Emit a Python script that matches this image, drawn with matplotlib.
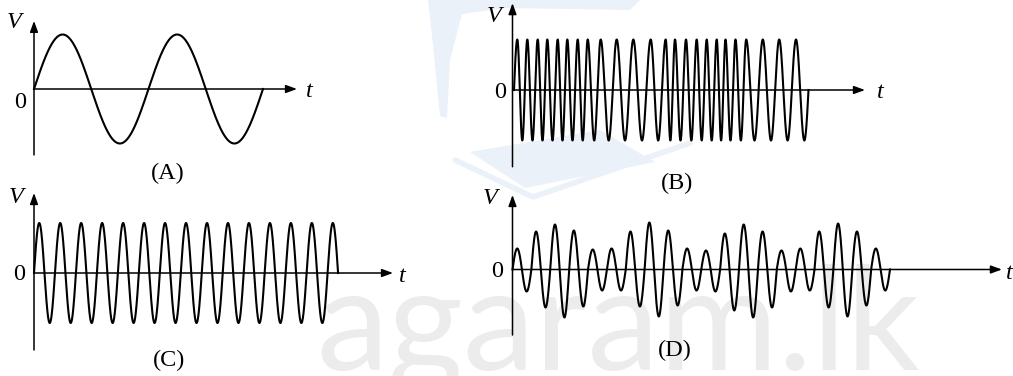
import numpy as np
import matplotlib
matplotlib.use("Agg")
import matplotlib.pyplot as plt
from matplotlib.patches import Polygon

# ---------------- data ----------------
# (A) modulating signal: plain sine
a_cycles = 2.0
a_amplitude = 1.0

# (B) frequency-modulated wave: times of successive crests (arbitrary time units)
b_start_time = 1.5
b_peak_times = [4.8, 14.8, 25.2, 34.8, 45.2, 54.8, 65.2, 75.2, 88.2, 104.2,
                120.8, 138.2, 153.2, 162.5, 173.5, 184.2, 194.2, 204.2, 213.0,
                223.0, 233.7, 250.3, 266.7, 283.5]
b_end_time = 296.0
b_amplitude = 1.0

# (C) unmodulated carrier
c_cycles = 14.5
c_amplitude = 1.0

# (D) amplitude-modulated wave: height of each successive half-lobe (+,-,+,-,...)
d_half_lobe_amps = [0.42, 0.44, 0.76, 0.76, 0.90, 0.96, 0.78, 0.74, 0.40, 0.42,
                    0.42, 0.42, 0.76, 0.74, 0.94, 0.94, 0.78, 0.72, 0.42, 0.42,
                    0.38, 0.44, 0.72, 0.82, 0.90, 0.96, 0.76, 0.76, 0.38, 0.44,
                    0.42, 0.42, 0.76, 0.76, 0.92, 0.94, 0.76, 0.72, 0.42, 0.42]

panel_labels = ["(A)", "(B)", "(C)", "(D)"]
axis_v_label = "V"
axis_t_label = "t"
axis_zero_label = "0"
watermark_text = "agaram.lk"

# ---------------- figure ----------------
W, H = 1013, 376
fig = plt.figure(figsize=(W / 100, H / 100), dpi=100)
fig.patch.set_facecolor("white")

bg = fig.add_axes([0, 0, 1, 1], zorder=0)
bg.set_xlim(0, W)
bg.set_ylim(H, 0)
bg.axis("off")

# faint watermark (laptop logo + site name)
wm_blue = "#ebf1f8"
bg.add_patch(Polygon([(428, 0), (640, 0), (630, 10), (505, 8), (462, 14),
                      (450, 60), (447, 118), (440, 116), (433, 45)],
                     closed=True, facecolor=wm_blue, edgecolor="none"))
bg.add_patch(Polygon([(470, 152), (600, 130), (655, 162), (525, 188)],
                     closed=True, facecolor=wm_blue, edgecolor="none"))
bg.plot([455, 533, 690], [160, 197, 143], color=wm_blue, lw=4, solid_capstyle="round")
bg.text(316, 370, watermark_text, fontsize=104, family="Lato", weight="normal",
        color="#ececec", ha="left", va="baseline")

AP = dict(arrowstyle="-|>,head_length=0.55,head_width=0.2", lw=1.1,
          color="black", shrinkA=0, shrinkB=0, mutation_scale=12)


def panel(ox, oy, sx, sy, t_tip, v_lo, v_hi):
    t0, t1 = -6 / sx, t_tip + 6 / sx
    v0, v1 = v_lo - 6 / sy, v_hi + 6 / sy
    left, right = ox + t0 * sx, ox + t1 * sx
    top, bottom = oy - v1 * sy, oy - v0 * sy
    ax = fig.add_axes([left / W, 1 - bottom / H, (right - left) / W, (bottom - top) / H],
                      zorder=2)
    ax.set_xlim(t0, t1)
    ax.set_ylim(v0, v1)
    ax.axis("off")
    ax.patch.set_alpha(0)
    ax.annotate("", xy=(0, v_hi), xytext=(0, v_lo), arrowprops=AP, annotation_clip=False)
    ax.annotate("", xy=(t_tip, 0), xytext=(0, 0), arrowprops=AP, annotation_clip=False)
    return ax


def labels(v_xy, z_xy, t_xy, p_xy, ptxt):
    kw = dict(fontsize=17.5, family="Liberation Serif", ha="center", va="baseline",
              color="black", zorder=3)
    bg.text(*v_xy, axis_v_label, style="italic", **kw)
    bg.text(*z_xy, axis_zero_label, **kw)
    bg.text(*t_xy, axis_t_label, style="italic", **kw)
    bg.text(*p_xy, ptxt, **kw)


wave_kw = dict(color="black", lw=1.5, solid_joinstyle="round", clip_on=False)

# ---- (A) ----
axA = panel(34, 89, 114.5, 54.5, 2.297, -1.21, 1.25)
tA = np.linspace(0, a_cycles, 800)
axA.plot(tA, a_amplitude * np.sin(2 * np.pi * tA), **wave_kw)
labels((14, 28), (20, 108), (309, 97), (168, 179), panel_labels[0])

# ---- (B) ----
axB = panel(512.5, 90, 1.0, 50.5, 352.5, -1.52, 1.72)
knot_t = [b_start_time] + b_peak_times + [b_end_time]
knot_ph = [0.0] + [np.pi / 2 + 2 * np.pi * k for k in range(len(b_peak_times))] + \
          [2 * np.pi * len(b_peak_times)]
tB = np.linspace(b_start_time, b_end_time, 4000)
phB = np.interp(tB, knot_t, knot_ph)
axB.plot(tB, b_amplitude * np.sin(phB), **wave_kw)
labels((494, 22), (500, 98), (880, 98), (677, 189), panel_labels[1])

# ---- (C) ----
axC = panel(34, 273, 20.97, 50.0, 17.12, -1.54, 1.6)
tC = np.linspace(0, c_cycles, 3000)
axC.plot(tC, c_amplitude * np.sin(2 * np.pi * tC), **wave_kw)
labels((16, 203), (19, 280), (402, 282), (169, 366), panel_labels[2])

# ---- (D) ----
axD = panel(512.5, 269.5, 18.875, 50.0, 25.93, -1.31, 1.49)
tD_parts, vD_parts = [], []
for i, amp in enumerate(d_half_lobe_amps):
    tt = np.linspace(i / 2, (i + 1) / 2, 60)
    tD_parts.append(tt)
    vD_parts.append(amp * np.sin(2 * np.pi * tt))
axD.plot(np.concatenate(tD_parts), np.concatenate(vD_parts), **wave_kw)
labels((490, 204), (497, 277), (1009, 279), (675, 356), panel_labels[3])

fig.savefig("out.png", dpi=100, facecolor="white")
